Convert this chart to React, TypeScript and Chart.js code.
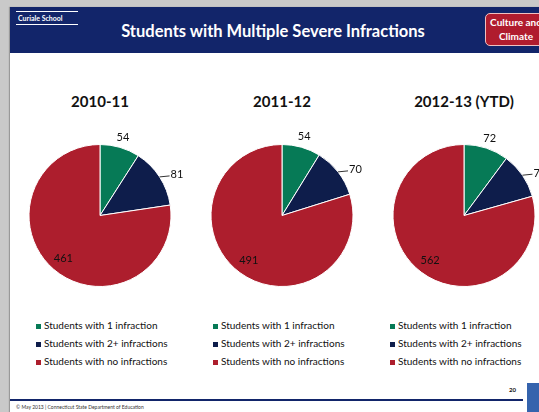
import React, { useEffect, useRef } from "react";
import { Chart, registerables } from "chart.js";

Chart.register(...registerables);

const categories = [
  "Students with 1 infraction",
  "Students with 2+ infractions",
  "Students with no infractions",
];
const years = ["2010-11", "2011-12", "2012-13 (YTD)"];
const values2010 = [54, 81, 461];
const values2011 = [54, 70, 491];
const values2012 = [72, 74, 562];
const seriesList = [values2010, values2011, values2012];
const colors = ["#067a56", "#0e1d4b", "#ad1e2d"];

const FONT = "Lato, 'Open Sans', 'DejaVu Sans', sans-serif";

const labelPlugin = {
  id: "sliceLabels",
  afterDatasetsDraw(chart: any) {
    const ctx = chart.ctx;
    const meta = chart.getDatasetMeta(0);
    const data = chart.data.datasets[0].data;
    ctx.save();
    ctx.font = `11px ${FONT}`;
    ctx.fillStyle = "#111111";
    ctx.textBaseline = "middle";
    meta.data.forEach((arc: any, i: number) => {
      const { x, y, startAngle, endAngle, outerRadius } = arc.getProps(
        ["x", "y", "startAngle", "endAngle", "outerRadius"],
        true
      );
      const mid = (startAngle + endAngle) / 2;
      const cos = Math.cos(mid);
      const sin = Math.sin(mid);
      const txt = String(data[i]);
      if (i === 0) {
        ctx.textAlign = "center";
        ctx.fillText(txt, x + cos * outerRadius * 1.15, y + sin * outerRadius * 1.15);
      } else if (i === 1) {
        const ex = x + cos * outerRadius;
        const ey = y + sin * outerRadius;
        ctx.strokeStyle = "#333333";
        ctx.lineWidth = 1;
        ctx.beginPath();
        ctx.moveTo(ex, ey);
        ctx.lineTo(ex + 10, ey - 1);
        ctx.stroke();
        ctx.textAlign = "left";
        ctx.fillText(txt, ex + 11, ey - 2);
      } else {
        ctx.textAlign = "center";
        ctx.fillText(txt, x + cos * outerRadius * 0.79, y + sin * outerRadius * 0.79);
      }
    });
    ctx.restore();
  },
};

function PieChart({ values, left }: { values: number[]; left: number }) {
  const ref = useRef<HTMLCanvasElement>(null);
  useEffect(() => {
    if (!ref.current) return;
    const chart = new Chart(ref.current, {
      type: "pie",
      data: {
        labels: categories,
        datasets: [
          {
            data: values,
            backgroundColor: colors,
            borderColor: "#ffffff",
            borderWidth: 1,
          },
        ],
      },
      options: {
        responsive: false,
        animation: false,
        layout: { padding: { top: 16, bottom: 5, left: 0, right: 0 } },
        plugins: {
          legend: { display: false },
          tooltip: { enabled: false },
          title: { display: false },
        },
      },
      plugins: [labelPlugin],
    });
    return () => chart.destroy();
  }, [values]);
  return (
    <canvas
      ref={ref}
      width={180}
      height={164}
      style={{ position: "absolute", left, top: 128, width: 180, height: 164 }}
    />
  );
}

const centers = [100, 282, 464];

export default function App() {
  return (
    <div
      style={{
        position: "fixed",
        left: 0,
        top: 0,
        width: 539,
        height: 412,
        overflow: "hidden",
        background: "#c9c9c9",
        fontFamily: FONT,
      }}
    >
      {/* slide */}
      <div
        style={{
          position: "absolute",
          left: 10,
          top: 7,
          width: 540,
          height: 410,
          background: "#ffffff",
          boxShadow: "-1px 0 1px #999",
        }}
      />
      {/* header band */}
      <div
        style={{
          position: "absolute",
          left: 10,
          top: 7,
          width: 540,
          height: 46,
          background: "#12256a",
        }}
      />
      <div
        style={{
          position: "absolute",
          left: 16,
          top: 11,
          width: 60,
          borderTop: "1px solid #fff",
          borderBottom: "1px solid #fff",
          color: "#fff",
          fontSize: 7,
          fontWeight: 700,
          lineHeight: "12px",
          paddingLeft: 2,
        }}
      >
        Curiale School
      </div>
      <div
        style={{
          position: "absolute",
          left: 73,
          width: 400,
          top: 20,
          textAlign: "center",
          color: "#fff",
          fontSize: 16.5,
          fontWeight: 700,
          lineHeight: "22px",
        }}
      >
        Students with Multiple Severe Infractions
      </div>
      <div
        style={{
          position: "absolute",
          left: 485,
          top: 13,
          width: 60,
          height: 30,
          background: "#b01c2e",
          border: "1px solid #f0c0c0",
          borderRadius: 5,
          color: "#fff",
          fontSize: 10,
          fontWeight: 700,
          textAlign: "center",
          lineHeight: "14px",
          paddingTop: 1,
          boxSizing: "content-box",
          whiteSpace: "nowrap",
        }}
      >
        Culture and
        <br />
        Climate
      </div>

      {years.map((y, i) => (
        <div
          key={y}
          style={{
            position: "absolute",
            left: centers[i] - 80,
            width: 160,
            top: 91,
            textAlign: "center",
            fontSize: 15,
            fontWeight: 700,
            color: "#111",
            lineHeight: "20px",
          }}
        >
          {y}
        </div>
      ))}

      {seriesList.map((vals, i) => (
        <PieChart key={i} values={vals} left={centers[i] - 90} />
      ))}

      {[36, 213, 390].map((lx, col) => (
        <div key={col} style={{ position: "absolute", left: lx, top: 316 }}>
          {categories.map((c, j) => (
            <div
              key={c}
              style={{
                display: "flex",
                alignItems: "center",
                height: 18,
                fontSize: 10,
                color: "#111",
                whiteSpace: "nowrap",
              }}
            >
              <span
                style={{
                  display: "inline-block",
                  width: 5,
                  height: 5,
                  background: colors[j],
                  marginRight: 3,
                  marginTop: 2,
                }}
              />
              {c}
            </div>
          ))}
        </div>
      ))}

      <div
        style={{
          position: "absolute",
          left: 509,
          top: 386,
          fontSize: 6,
          fontWeight: 700,
          color: "#111",
        }}
      >
        20
      </div>
      <div
        style={{
          position: "absolute",
          left: 10,
          top: 399,
          width: 513,
          height: 2,
          background: "#12256a",
        }}
      />
      <div
        style={{
          position: "absolute",
          left: 527,
          top: 383,
          width: 14,
          height: 30,
          background: "#3563ad",
        }}
      />
      <div
        style={{
          position: "absolute",
          left: 16,
          top: 404,
          fontSize: 5,
          color: "#333",
          whiteSpace: "nowrap",
        }}
      >
        © May 2013 | Connecticut State Department of Education
      </div>
    </div>
  );
}
